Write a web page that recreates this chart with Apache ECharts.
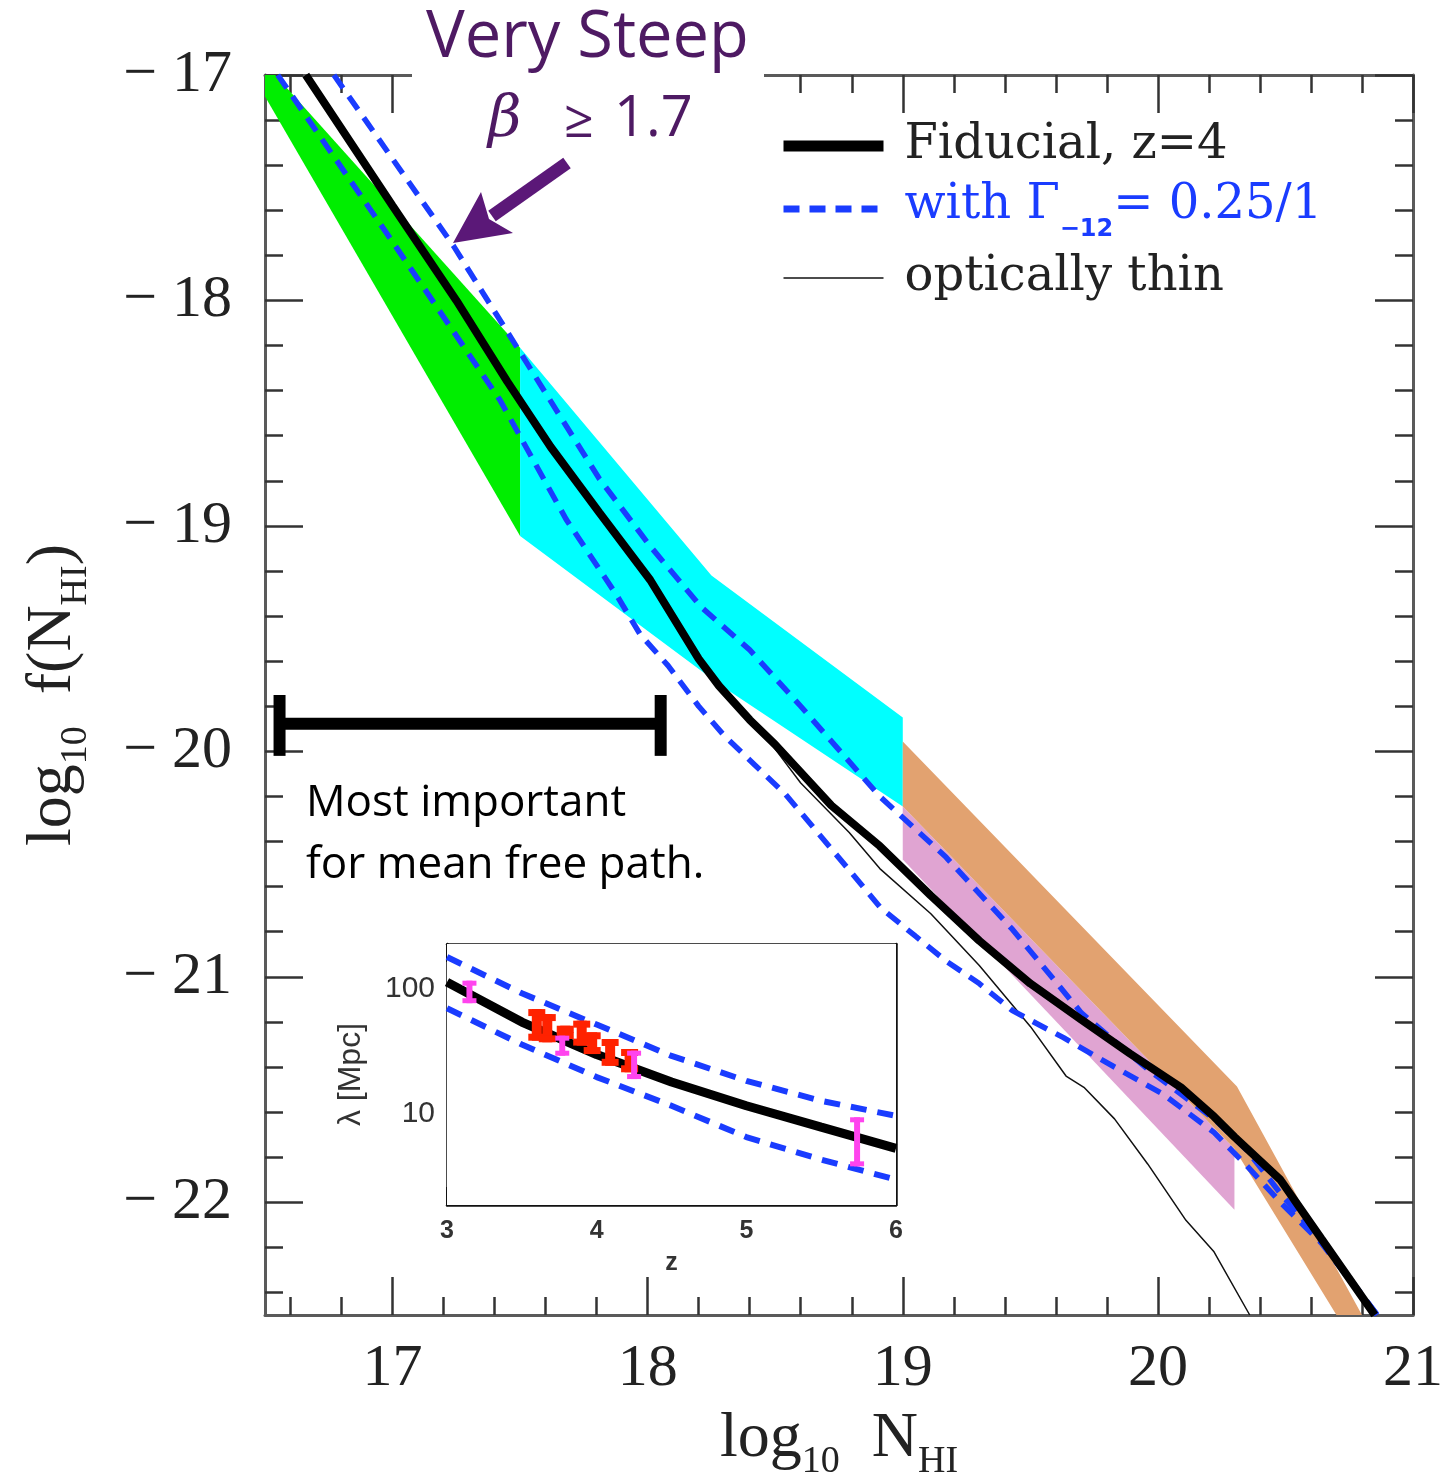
<!DOCTYPE html>
<html>
<head>
<meta charset="utf-8">
<script src="https://cdn.jsdelivr.net/npm/echarts/dist/echarts.min.js"></script>
<style>
html, body { margin: 0; padding: 0; background: #fff; }
#chart { width: 1444px; height: 1474px; }
</style>
</head>
<body>
<div id="chart"></div>
<script>
// colours
const blue = '#1a3cff';
const purple = '#4e1a63';

// main panel: log10 f(N_HI) vs log10 N_HI
const fiducialX = [16.66, 17.0, 17.25, 17.45, 17.62, 17.81, 18.01, 18.20, 18.28, 18.40, 18.5, 18.72, 18.91, 19.11, 19.30, 19.50, 19.70, 19.89, 20.09, 20.22, 20.30, 20.48, 20.64, 20.85];
const fiducialY = [-17.0, -17.58, -18.0, -18.36, -18.65, -18.94, -19.24, -19.59, -19.71, -19.86, -19.97, -20.24, -20.42, -20.64, -20.84, -21.03, -21.19, -21.34, -21.49, -21.62, -21.71, -21.90, -22.16, -22.5];

const thinX = [16.66, 17.0, 17.25, 17.45, 17.62, 17.81, 18.01, 18.20, 18.28, 18.40, 18.5, 18.6, 18.79, 18.91, 19.11, 19.30, 19.50, 19.64, 19.71, 19.83, 19.96, 20.11, 20.22, 20.36];
const thinY = [-17.0, -17.58, -18.0, -18.36, -18.65, -18.94, -19.24, -19.59, -19.71, -19.86, -19.99, -20.14, -20.36, -20.52, -20.72, -20.95, -21.22, -21.44, -21.49, -21.63, -21.83, -22.08, -22.22, -22.5];

const gammaHighX = [16.77, 17.24, 17.5, 17.81, 18.01, 18.21, 18.40, 18.60, 18.91, 19.17, 19.43, 19.70, 19.96, 20.22, 20.35, 20.48, 20.64, 20.86];
const gammaHighY = [-17.0, -17.76, -18.23, -18.79, -19.09, -19.36, -19.55, -19.80, -20.20, -20.47, -20.79, -21.16, -21.41, -21.63, -21.77, -21.96, -22.17, -22.5];

const gammaLowX = [16.55, 17.0, 17.42, 17.68, 17.88, 17.97, 18.08, 18.20, 18.30, 18.42, 18.54, 18.80, 18.91, 19.05, 19.17, 19.30, 19.43, 19.63, 19.83, 20.02, 20.22, 20.35, 20.48, 20.64, 20.86];
const gammaLowY = [-17.0, -17.74, -18.44, -18.97, -19.31, -19.48, -19.62, -19.80, -19.93, -20.06, -20.19, -20.54, -20.69, -20.82, -20.93, -21.03, -21.15, -21.27, -21.40, -21.52, -21.69, -21.84, -22.0, -22.18, -22.5];

// shaded constraints (polygon corners)
const greenZone = [[16.5, -17.0], [16.54, -17.0], [17.5, -18.21], [17.5, -19.045], [16.5, -17.095]];
const cyanZone = [[17.5, -18.21], [18.25, -19.22], [19.0, -19.85], [19.0, -20.245], [18.29, -19.71], [17.5, -19.045]];
const pinkZone = [[19.0, -20.245], [20.3, -21.763], [20.3, -22.033], [19.0, -20.48]];
const orangeZone = [[19.0, -19.956], [20.31, -21.486], [20.80, -22.5], [20.70, -22.5], [20.3, -21.763], [19.0, -20.245]];

// "most important" bracket
const bracketX = [16.557, 18.051];
const bracketY = [-19.878, -19.75, -20.02];

// ticks
const xMajor = [17, 18, 19, 20, 21];
const xMinor = [16.6, 16.8, 17.2, 17.4, 17.6, 17.8, 18.2, 18.4, 18.6, 18.8, 19.2, 19.4, 19.6, 19.8, 20.2, 20.4, 20.6, 20.8];
const yMajor = [-17, -18, -19, -20, -21, -22];
const yMinor = [-17.2, -17.4, -17.6, -17.8, -18.2, -18.4, -18.6, -18.8, -19.2, -19.4, -19.6, -19.8, -20.2, -20.4, -20.6, -20.8, -21.2, -21.4, -21.6, -21.8, -22.2, -22.4];

// inset: mean free path vs z
const insetZ = [3.0, 3.5, 4.0, 4.5, 5.0, 5.5, 6.0];
const insetFiducial = [112, 53.7, 29.5, 17.8, 11.5, 7.76, 5.25];
const insetHigh = [178, 91.2, 51.3, 28.8, 18.2, 12.6, 9.55];
const insetLow = [69.2, 35.5, 19.5, 11.5, 6.46, 4.27, 2.95];

const redZ = [3.60, 3.67, 3.79, 3.90, 3.97, 4.09, 4.22];
const redLo = [38.1, 37.0, 39.3, 34.8, 29.8, 24.0, 21.3];
const redHi = [68.2, 62.2, 50.2, 55.1, 44.5, 39.3, 32.7];

const pinkZ = [3.15, 3.77, 4.25, 5.74];
const pinkLo = [76, 28.9, 18.8, 3.77];
const pinkHi = [115, 41.8, 31.7, 9.3];

const insetXMajor = [3, 4, 5, 6];
const insetXMinor = [3.2, 3.4, 3.6, 3.8, 4.2, 4.4, 4.6, 4.8, 5.2, 5.4, 5.6, 5.8];
const insetYMajor = [10, 100];
const insetYMinor = [2, 3, 4, 5, 6, 7, 8, 9, 20, 30, 40, 50, 60, 70, 80, 90];

const legendNames = ['Fiducial, z=4', 'with \u0393-12= 0.25/1', 'optically thin'];

function pairs(xs, ys) {
	return xs.map((x, i) => [x, ys[i]]);
}

function zoneSeries(pts, color) {
	return {
		type: 'custom', xAxisIndex: 0, yAxisIndex: 0, z: 1, silent: true, clip: true,
		data: [pts[0]],
		renderItem: function (params, api) {
			return {
				type: 'polygon',
				shape: { points: pts.map(p => api.coord(p)) },
				style: { fill: color }
			};
		}
	};
}

function lineSeries(name, xs, ys, width, color, dash, xi) {
	return {
		name: name, type: 'line', xAxisIndex: xi, yAxisIndex: xi, z: xi ? 7 : 3,
		data: pairs(xs, ys), symbol: 'none', showSymbol: false, silent: true,
		itemStyle: { color: color },
		lineStyle: { width: width, color: color, type: dash || 'solid' }
	};
}

function errorSeries(zs, lo, hi, color, barW, capW, capH) {
	return {
		type: 'custom', xAxisIndex: 4, yAxisIndex: 4, z: 8, silent: true,
		data: zs.map((z, i) => [z, lo[i], hi[i]]),
		encode: { x: 0, y: [1, 2] },
		renderItem: function (params, api) {
			const top = api.coord([api.value(0), api.value(2)]);
			const bot = api.coord([api.value(0), api.value(1)]);
			return {
				type: 'group', children: [
					{ type: 'rect', shape: { x: top[0] - barW / 2, y: top[1], width: barW, height: bot[1] - top[1] }, style: { fill: color } },
					{ type: 'rect', shape: { x: top[0] - capW / 2, y: top[1], width: capW, height: capH }, style: { fill: color } },
					{ type: 'rect', shape: { x: bot[0] - capW / 2, y: bot[1] - capH, width: capW, height: capH }, style: { fill: color } }
				]
			};
		}
	};
}

const frameLine = { show: true, lineStyle: { color: '#5a5a5a', width: 3 } };
const tickStyle = { color: '#333', width: 2.5 };
const serif = 'Liberation Serif';

function mainAxis(extra) {
	return Object.assign({
		type: 'value', gridIndex: 0, splitLine: { show: false },
		axisLine: frameLine, axisLabel: { show: false }
	}, extra);
}

function insetAxis(extra) {
	return Object.assign({
		type: 'value', gridIndex: 1, splitLine: { show: false },
		axisLine: { show: true, lineStyle: { color: '#111', width: 2.5 } },
		axisLabel: { show: false }
	}, extra);
}

const nameRich = {
	a: { fontFamily: serif, fontSize: 64, lineHeight: 64, color: '#222', verticalAlign: 'top' },
	s: { fontFamily: serif, fontSize: 38, lineHeight: 38, color: '#222', verticalAlign: 'top', padding: [36, 0, 0, 0] }
};

const option = {
	animation: false,
	backgroundColor: '#fff',
	grid: [
		{ left: 265, top: 75, width: 1148, height: 1240, outerBoundsMode: 'none', containLabel: false },
		{ left: 447, top: 944, width: 449, height: 261, outerBoundsMode: 'none', containLabel: false, show: true, backgroundColor: '#fff', borderColor: 'transparent', z: 4 }
	],
	xAxis: [
		mainAxis({
			position: 'bottom', min: 16.5, max: 21,
			axisTick: { inside: true, length: 38, customValues: xMajor, lineStyle: tickStyle },
			axisLabel: { show: true, customValues: xMajor, margin: 24, fontFamily: serif, fontSize: 60, color: '#222' },
			name: '{a|log}{s|10}{a|  N}{s|HI}', nameLocation: 'middle', nameGap: 92,
			nameTextStyle: { rich: nameRich }
		}),
		mainAxis({ position: 'bottom', min: 16.5, max: 21, axisLine: { show: false }, axisTick: { inside: true, length: 18, customValues: xMinor, lineStyle: tickStyle } }),
		mainAxis({ position: 'top', min: 16.5, max: 21, axisTick: { inside: true, length: 38, customValues: xMajor, lineStyle: tickStyle } }),
		mainAxis({ position: 'top', min: 16.5, max: 21, axisLine: { show: false }, axisTick: { inside: true, length: 18, customValues: xMinor, lineStyle: tickStyle } }),
		insetAxis({
			position: 'bottom', min: 3, max: 6,
			axisTick: { inside: true, length: 18, customValues: insetXMajor, lineStyle: { color: '#111', width: 2 } },
			axisLabel: { show: true, customValues: insetXMajor, margin: 14, fontFamily: 'Liberation Sans', fontWeight: 'bold', fontSize: 25, color: '#333' },
			name: 'z', nameLocation: 'middle', nameGap: 46,
			nameTextStyle: { fontFamily: 'Liberation Sans', fontWeight: 'bold', fontSize: 25, color: '#333' }
		}),
		insetAxis({ position: 'bottom', min: 3, max: 6, axisLine: { show: false }, axisTick: { inside: true, length: 9, customValues: insetXMinor, lineStyle: { color: '#111', width: 2 } } }),
		insetAxis({ position: 'top', min: 3, max: 6, axisTick: { inside: true, length: 18, customValues: insetXMajor, lineStyle: { color: '#111', width: 2 } } }),
		insetAxis({ position: 'top', min: 3, max: 6, axisLine: { show: false }, axisTick: { inside: true, length: 9, customValues: insetXMinor, lineStyle: { color: '#111', width: 2 } } })
	],
	yAxis: [
		mainAxis({
			position: 'left', min: -22.5, max: -17,
			axisTick: { inside: true, length: 38, customValues: yMajor, lineStyle: tickStyle },
			axisLabel: {
				show: true, customValues: yMajor, margin: 33, fontFamily: serif, fontSize: 60, color: '#222',
				formatter: v => '\u2212 ' + Math.abs(v)
			},
			name: '{a|log}{s|10}{a|  f(N}{s|HI}{a|)}', nameLocation: 'middle', nameGap: 180, nameRotate: 90,
			nameTextStyle: { rich: nameRich }
		}),
		mainAxis({ position: 'left', min: -22.5, max: -17, axisLine: { show: false }, axisTick: { inside: true, length: 18, customValues: yMinor, lineStyle: tickStyle } }),
		mainAxis({ position: 'right', min: -22.5, max: -17, axisTick: { inside: true, length: 38, customValues: yMajor, lineStyle: tickStyle } }),
		mainAxis({ position: 'right', min: -22.5, max: -17, axisLine: { show: false }, axisTick: { inside: true, length: 18, customValues: yMinor, lineStyle: tickStyle } }),
		insetAxis({
			type: 'log', position: 'left', min: 1.85, max: 226,
			axisTick: { inside: true, length: 18, customValues: insetYMajor, lineStyle: { color: '#111', width: 2 } },
			axisLabel: { show: true, customValues: insetYMajor, margin: 12, fontFamily: 'Liberation Sans', fontSize: 30, color: '#333' },
			name: '\u03bb [Mpc]', nameLocation: 'middle', nameGap: 80, nameRotate: 90,
			nameTextStyle: { fontFamily: 'Liberation Sans', fontSize: 32, color: '#333' }
		}),
		insetAxis({ type: 'log', position: 'left', min: 1.85, max: 226, axisLine: { show: false }, axisTick: { inside: true, length: 9, customValues: insetYMinor, lineStyle: { color: '#111', width: 2 } } }),
		insetAxis({ type: 'log', position: 'right', min: 1.85, max: 226, axisTick: { inside: true, length: 18, customValues: insetYMajor, lineStyle: { color: '#111', width: 2 } } }),
		insetAxis({ type: 'log', position: 'right', min: 1.85, max: 226, axisLine: { show: false }, axisTick: { inside: true, length: 9, customValues: insetYMinor, lineStyle: { color: '#111', width: 2 } } })
	],
	legend: {
		orient: 'vertical', left: 778, top: 122, padding: 0,
		itemWidth: 100, itemHeight: 12, itemGap: 12, selectedMode: false,
		itemStyle: { opacity: 0 },
		data: [
			{ name: legendNames[0], lineStyle: { width: 11 }, itemStyle: { opacity: 0 } },
			{ name: legendNames[1], lineStyle: { width: 7 }, itemStyle: { opacity: 0 } },
			{ name: legendNames[2], lineStyle: { width: 1.5 }, itemStyle: { opacity: 0 } }
		],
		formatter: function (name) {
			if (name === legendNames[1]) return '{b0|with \u0393}{bs|\u221212}{b|= 0.25/1}';
			return '{k|' + name + '}';
		},
		textStyle: {
			rich: {
				k: { fontFamily: 'DejaVu Serif', fontSize: 48, lineHeight: 54, color: '#222', padding: [0, 0, 0, 16] },
				b0: { fontFamily: 'DejaVu Serif', fontSize: 48, lineHeight: 54, color: blue, verticalAlign: 'top', padding: [0, 0, 0, 16] },
				b: { fontFamily: 'DejaVu Serif', fontSize: 48, lineHeight: 54, color: blue, verticalAlign: 'top' },
				bs: { fontFamily: 'DejaVu Sans', fontWeight: 'bold', fontSize: 24, lineHeight: 24, color: blue, verticalAlign: 'top', padding: [36, 0, 0, 0] }
			}
		}
	},
	series: [
		zoneSeries(greenZone, '#00ee00'),
		zoneSeries(cyanZone, '#00ffff'),
		zoneSeries(pinkZone, '#e0a4d2'),
		zoneSeries(orangeZone, '#e2a270'),
		lineSeries(legendNames[2], thinX, thinY, 1.5, '#111', 'solid', 0),
		lineSeries(legendNames[1], gammaHighX, gammaHighY, 5.5, blue, [16, 10], 0),
		lineSeries(legendNames[1], gammaLowX, gammaLowY, 5.5, blue, [16, 10], 0),
		lineSeries(legendNames[0], fiducialX, fiducialY, 8, '#000', 'solid', 0),
		{
			type: 'custom', xAxisIndex: 0, yAxisIndex: 0, z: 5, silent: true,
			data: [[bracketX[0], bracketY[0]]],
			renderItem: function (params, api) {
				const l = api.coord([bracketX[0], bracketY[0]]);
				const r = api.coord([bracketX[1], bracketY[0]]);
				const top = api.coord([bracketX[0], bracketY[1]])[1];
				const bot = api.coord([bracketX[0], bracketY[2]])[1];
				return {
					type: 'group', children: [
						{ type: 'rect', shape: { x: l[0], y: l[1] - 6, width: r[0] - l[0], height: 12 }, style: { fill: '#000' } },
						{ type: 'rect', shape: { x: l[0] - 6, y: top, width: 12, height: bot - top }, style: { fill: '#000' } },
						{ type: 'rect', shape: { x: r[0] - 6, y: top, width: 12, height: bot - top }, style: { fill: '#000' } }
					]
				};
			}
		},
		lineSeries('inset high', insetZ, insetHigh, 6, blue, [16, 11], 4),
		lineSeries('inset low', insetZ, insetLow, 6, blue, [16, 11], 4),
		lineSeries('inset fiducial', insetZ, insetFiducial, 9, '#000', 'solid', 4),
		errorSeries(redZ, redLo, redHi, '#ff2200', 10, 17, 7),
		errorSeries(pinkZ, pinkLo, pinkHi, '#ff44ee', 6, 14, 5)
	],
	graphic: [
		{ type: 'rect', z: 100, shape: { x: 412, y: 0, width: 352, height: 118 }, style: { fill: '#fff' } },
		{ type: 'text', z: 101, x: 426, y: 6, style: { text: 'Very Steep', fontFamily: 'Open Sans', fontSize: 65, fill: purple } },
		{ type: 'text', z: 101, x: 488, y: 92, style: { text: '\u03b2', fontFamily: 'DejaVu Serif', fontStyle: 'italic', fontSize: 58, fill: purple } },
		{ type: 'text', z: 101, x: 564, y: 96, style: { text: '\u2265', fontFamily: 'Open Sans', fontSize: 52, fill: purple } },
		{ type: 'text', z: 101, x: 614, y: 92, style: { text: '1.7', fontFamily: 'Open Sans', fontSize: 56, fill: purple } },
		{ type: 'line', z: 101, shape: { x1: 567, y1: 163, x2: 492, y2: 216 }, style: { stroke: '#5b1878', lineWidth: 13 } },
		{ type: 'polygon', z: 101, shape: { points: [[453, 243], [481, 192], [489, 219], [513, 233]] }, style: { fill: '#5b1878' } },
		{ type: 'text', z: 101, x: 306, y: 772, style: { text: 'Most important\nfor mean free path.', fontFamily: 'Open Sans', fontSize: 44, lineHeight: 62, fill: '#000' } }
	]
};

const chart = echarts.init(document.getElementById('chart'));
chart.setOption(option);
</script>
</body>
</html>
